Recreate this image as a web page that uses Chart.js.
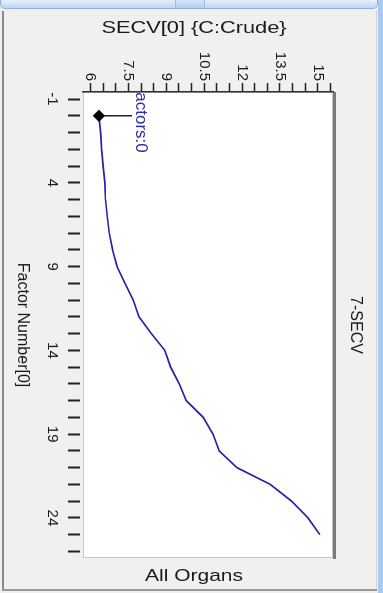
<!DOCTYPE html>
<html>
<head>
<meta charset="utf-8">
<script src="https://cdn.jsdelivr.net/npm/chart.js@4.4.1/dist/chart.umd.min.js"></script>
<style>
  html, body { margin: 0; padding: 0; }
  body { width: 383px; height: 593px; background: #f0f0f0; position: relative; overflow: hidden; }
  .topbar { position: absolute; left: 0; top: 0; width: 376px; height: 8px; background: linear-gradient(#e6f0fb, #bfd6f1); border: 1px solid #8db2df; border-top: none; border-radius: 0 0 5px 5px; }
  .topknob { position: absolute; left: 175px; top: 0; width: 28px; height: 8px; border-left: 1px solid #9dbde4; border-right: 1px solid #9dbde4; background: linear-gradient(#d7e6f8, #b3cdee); }
  .leftedge { position: absolute; left: 2px; top: 11px; width: 2px; bottom: 4px; background: #8c8c8c; }
  .rightedge { position: absolute; left: 378px; top: 0; width: 5px; height: 593px; background: #a9c9ef; }
  .rightline { position: absolute; left: 376px; top: 10px; width: 1px; bottom: 4px; background: #d4d4d4; }
  .bottomedge { position: absolute; left: 2px; top: 589px; width: 375px; height: 2px; background: #9a9a9a; }
  #wrap { position: absolute; left: 5px; top: 12px; width: 578px; height: 371px; transform-origin: 0 0; transform: translate(371px, 0) rotate(90deg); }
</style>
</head>
<body>
<div class="topbar"></div>
<div class="topknob"></div>
<div class="leftedge"></div>
<div class="rightline"></div>
<div class="rightedge"></div>
<div class="bottomedge"></div>
<div id="wrap"><canvas id="c" width="578" height="371"></canvas></div>
<script>
// values (factor number -> SECV)
const factors = [0, 1, 2, 3, 4, 5, 6, 7, 8, 9, 10, 11, 12, 13, 14, 15, 16, 17, 18, 19, 20, 21, 22, 23, 24, 25];
const secv = [6.33, 6.40, 6.44, 6.50, 6.57, 6.59, 6.66, 6.74, 6.87, 7.05, 7.36, 7.69, 7.92, 8.41, 8.94, 9.17, 9.51, 9.79, 10.46, 10.85, 11.09, 11.80, 13.12, 13.96, 14.61, 15.08];
const factorLabels = [-1, 4, 9, 14, 19, 24];
const secvLabels = [6, 7.5, 9, 10.5, 12, 13.5, 15];
const annotationText = 'Factors:0';

const FONT = '"Liberation Sans", Arial, sans-serif';
const TEXT = '#1a1a1a';

// chart is built in landscape and the canvas is turned 90deg clockwise by css
function sideText(ctx, text, x, y, width) {
  ctx.save();
  ctx.translate(x, y);
  ctx.rotate(-Math.PI / 2);
  ctx.font = '16px ' + FONT;
  const w = ctx.measureText(text).width;
  ctx.scale(width / w, 1);
  ctx.fillStyle = TEXT;
  ctx.textAlign = 'center';
  ctx.textBaseline = 'middle';
  ctx.fillText(text, 0, 0);
  ctx.restore();
}

const frame = {
  id: 'frame',
  beforeDraw(chart) {
    const { ctx, chartArea: a } = chart;
    ctx.save();
    ctx.fillStyle = '#fff';
    ctx.fillRect(a.left, a.top, a.right - a.left, a.bottom - a.top);
    ctx.strokeStyle = '#c8c8c8';
    ctx.lineWidth = 1;
    ctx.strokeRect(a.left + 0.5, a.top + 0.5, a.right - a.left - 1, a.bottom - a.top - 1);
    ctx.strokeStyle = '#7a7a7a';
    ctx.lineWidth = 3;
    ctx.beginPath();
    ctx.moveTo(a.left, a.top - 1.5);
    ctx.lineTo(a.right + 1, a.top - 1.5);
    ctx.stroke();
    ctx.restore();
  },
  afterDatasetsDraw(chart) {
    const { ctx, chartArea: a } = chart;
    const p = chart.getDatasetMeta(0).data[0];
    ctx.save();
    ctx.strokeStyle = '#000';
    ctx.lineWidth = 1.3;
    ctx.beginPath();
    ctx.moveTo(p.x, p.y);
    ctx.lineTo(p.x, p.y - 33);
    ctx.stroke();
    ctx.beginPath();
    ctx.rect(a.left, a.top, a.right - a.left, a.bottom - a.top);
    ctx.clip();
    ctx.font = '17px ' + FONT;
    ctx.fillStyle = '#2e2ea6';
    ctx.textAlign = 'right';
    ctx.textBaseline = 'alphabetic';
    ctx.fillText(annotationText, p.x + 37, p.y - 37);
    ctx.restore();
  },
  afterDraw(chart) {
    const { ctx } = chart;
    sideText(ctx, 'SECV[0] {C:Crude}', 16.5, 182, 185);
    sideText(ctx, 'All Organs', 565, 182, 98);
  }
};

new Chart(document.getElementById('c'), {
  type: 'scatter',
  data: {
    datasets: [{
      label: 'All Organs',
      data: factors.map((f, i) => ({ x: f, y: secv[i] })),
      showLine: true,
      borderColor: '#2424a8',
      borderWidth: 1.7,
      tension: 0,
      pointStyle: 'rectRot',
      pointRadius: c => (c.dataIndex === 0 ? 5 : 0),
      pointHoverRadius: 0,
      pointBackgroundColor: '#000',
      pointBorderColor: '#000'
    }]
  },
  options: {
    responsive: false,
    animation: false,
    devicePixelRatio: 1,
    layout: { padding: { left: 0, top: 0, right: 32, bottom: 0 } },
    plugins: {
      legend: { display: false },
      tooltip: { enabled: false },
      title: {
        display: true,
        text: '7-SECV',
        position: 'top',
        fullSize: false,
        color: TEXT,
        font: { family: FONT, size: 16, weight: 'normal' },
        padding: { top: 11.4, bottom: 12.4 }
      }
    },
    scales: {
      x: {
        type: 'linear',
        position: 'bottom',
        min: -1.42,
        max: 26.39,
        afterFit: s => { s.height = 78; },
        afterBuildTicks: s => {
          const t = [];
          for (let v = -1; v <= 26; v++) t.push({ value: v });
          s.ticks = t;
        },
        border: { display: false },
        grid: {
          drawOnChartArea: false,
          tickLength: 15,
          tickWidth: 2,
          tickColor: '#222',
          tickBorderDash: [12, 100],
          tickBorderDashOffset: -3
        },
        ticks: {
          autoSkip: false,
          maxRotation: 0,
          padding: 6.5,
          color: TEXT,
          font: { family: FONT, size: 15 },
          callback: v => (factorLabels.includes(v) ? String(v) : '')
        },
        title: {
          display: true,
          text: 'Factor Number[0]',
          color: TEXT,
          font: { family: FONT, size: 16 },
          padding: { top: 0, bottom: 8 }
        }
      },
      y: {
        type: 'linear',
        position: 'left',
        min: 5.7,
        max: 15.6,
        afterFit: s => { s.width = 80; },
        afterBuildTicks: s => {
          const t = [];
          for (let i = 0; i <= 19; i++) t.push({ value: 6 + i * 0.5 });
          s.ticks = t;
        },
        border: { display: true, color: '#333', width: 1.5 },
        grid: { drawOnChartArea: false, tickLength: 9, tickWidth: 1.5, tickColor: '#222' },
        ticks: {
          autoSkip: false,
          padding: 2,
          color: TEXT,
          font: { family: FONT, size: 15 },
          callback: v => (secvLabels.includes(v) ? String(v) : '')
        }
      }
    }
  },
  plugins: [frame]
});
</script>
</body>
</html>
